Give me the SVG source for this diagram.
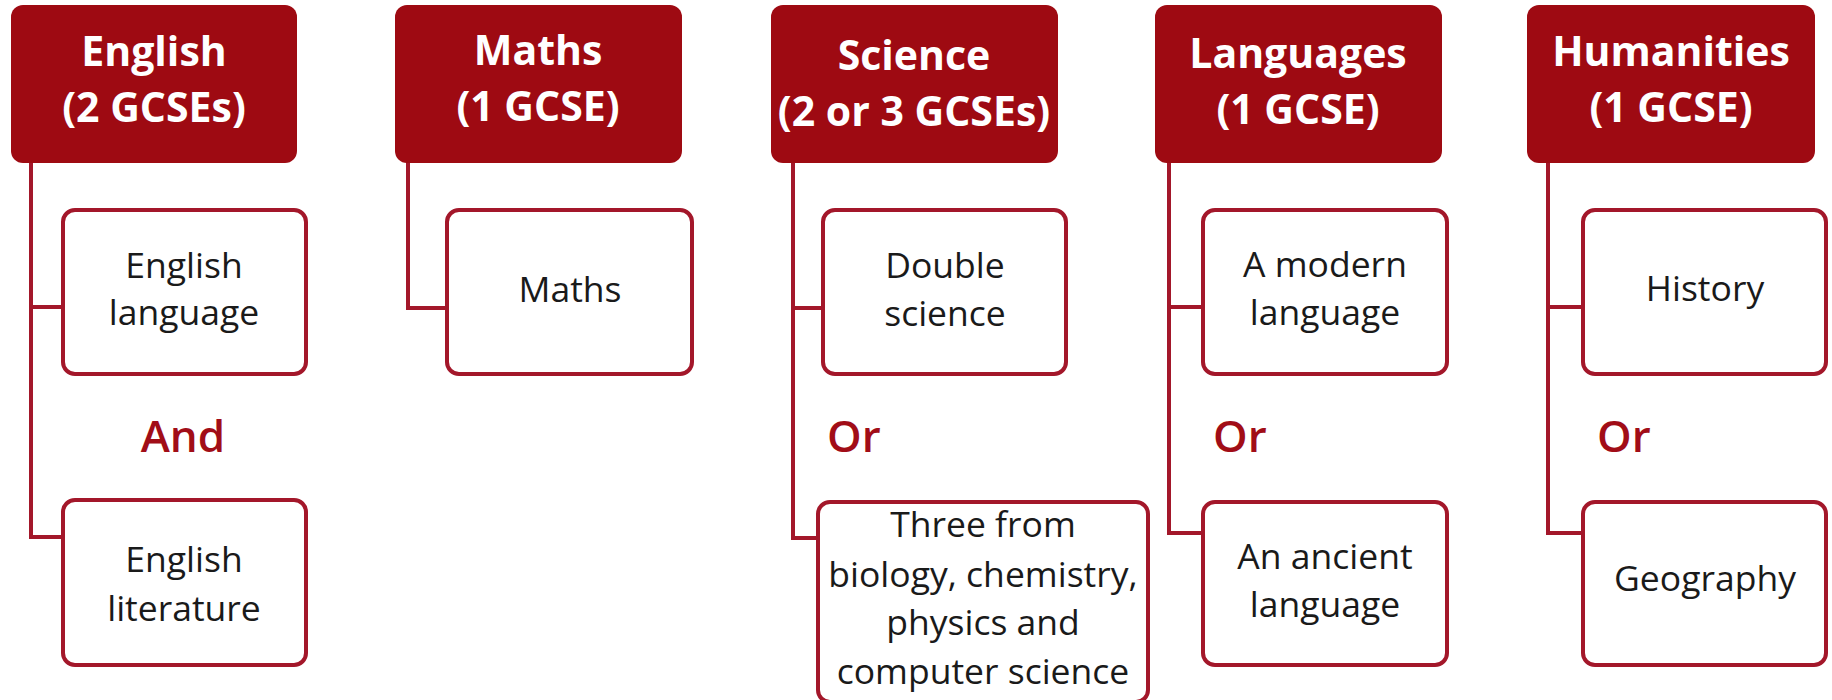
<svg xmlns="http://www.w3.org/2000/svg" width="1832" height="700" viewBox="0 0 1832 700">
<style>
.hdr{fill:#9e0a12}
.box{fill:#ffffff;stroke:#a3172a;stroke-width:4}
.con{fill:none;stroke:#a3172a;stroke-width:4}
.ht{font-family:"Open Sans","Liberation Sans",sans-serif;font-weight:700;font-size:41px;fill:#ffffff;text-anchor:middle}
.bt{font-family:"Open Sans","Liberation Sans",sans-serif;font-weight:400;font-size:35.5px;fill:#1a1a1a;text-anchor:middle}
.op{font-family:"Open Sans","Liberation Sans",sans-serif;font-weight:600;font-size:44px;fill:#a10d17}
</style>
<rect width="1832" height="700" fill="#ffffff"/>
<g id="connectors">
<path class="con" d="M31,160 V537 H63 M31,307 H63"/>
<path class="con" d="M408,160 V308 H447"/>
<path class="con" d="M793,160 V538 H818 M793,308 H823"/>
<path class="con" d="M1169,160 V533 H1203 M1169,307 H1203"/>
<path class="con" d="M1548,160 V533 H1583 M1548,307 H1583"/>
</g>
<g id="english">
<rect class="hdr" x="11" y="5" width="286" height="158" rx="12"/>
<text class="ht" x="154" y="66">English</text>
<text class="ht" x="154" y="122">(2 GCSEs)</text>
</g>
<g id="english-language">
<rect class="box" x="63" y="210" width="243" height="164" rx="12"/>
<text class="bt" x="184" y="278">English</text>
<text class="bt" x="184" y="325">language</text>
</g>
<text id="and" class="op" x="183" y="452" text-anchor="middle">And</text>
<g id="english-literature">
<rect class="box" x="63" y="500" width="243" height="165" rx="12"/>
<text class="bt" x="184" y="572">English</text>
<text class="bt" x="184" y="621">literature</text>
</g>
<g id="maths">
<rect class="hdr" x="395" y="5" width="287" height="158" rx="12"/>
<text class="ht" x="538" y="65">Maths</text>
<text class="ht" x="538" y="121">(1 GCSE)</text>
</g>
<g id="maths-child">
<rect class="box" x="447" y="210" width="245" height="164" rx="12"/>
<text class="bt" x="570" y="302">Maths</text>
</g>
<g id="science">
<rect class="hdr" x="771" y="5" width="287" height="158" rx="12"/>
<text class="ht" x="914" y="70">Science</text>
<text class="ht" x="914" y="126">(2 or 3 GCSEs)</text>
</g>
<g id="double-science">
<rect class="box" x="823" y="210" width="243" height="164" rx="12"/>
<text class="bt" x="945" y="278">Double</text>
<text class="bt" x="945" y="326">science</text>
</g>
<text id="or-science" class="op" x="827" y="452">Or</text>
<g id="three-sciences">
<rect class="box" x="818" y="502" width="330" height="200" rx="12"/>
<text class="bt" x="983" y="537">Three from</text>
<text class="bt" x="983" y="587">biology, chemistry,</text>
<text class="bt" x="983" y="635">physics and</text>
<text class="bt" x="983" y="684">computer science</text>
</g>
<g id="languages">
<rect class="hdr" x="1155" y="5" width="287" height="158" rx="12"/>
<text class="ht" x="1298" y="68">Languages</text>
<text class="ht" x="1298" y="124">(1 GCSE)</text>
</g>
<g id="modern-language">
<rect class="box" x="1203" y="210" width="244" height="164" rx="12"/>
<text class="bt" x="1325" y="277">A modern</text>
<text class="bt" x="1325" y="325">language</text>
</g>
<text id="or-languages" class="op" x="1213" y="452">Or</text>
<g id="ancient-language">
<rect class="box" x="1203" y="502" width="244" height="163" rx="12"/>
<text class="bt" x="1325" y="569">An ancient</text>
<text class="bt" x="1325" y="617">language</text>
</g>
<g id="humanities">
<rect class="hdr" x="1527" y="5" width="288" height="158" rx="12"/>
<text class="ht" x="1671" y="66">Humanities</text>
<text class="ht" x="1671" y="122">(1 GCSE)</text>
</g>
<g id="history">
<rect class="box" x="1583" y="210" width="243" height="164" rx="12"/>
<text class="bt" x="1705" y="301">History</text>
</g>
<text id="or-humanities" class="op" x="1597" y="452">Or</text>
<g id="geography">
<rect class="box" x="1583" y="502" width="243" height="163" rx="12"/>
<text class="bt" x="1705" y="591">Geography</text>
</g>
</svg>
